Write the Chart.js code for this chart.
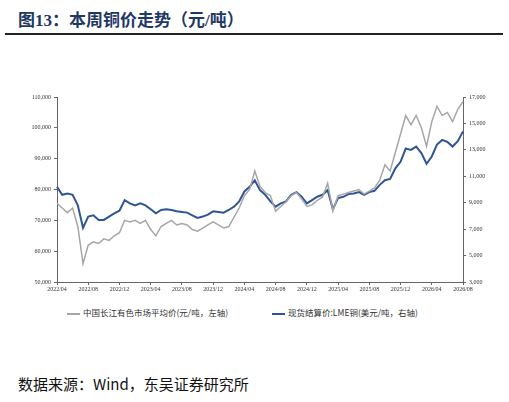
<!DOCTYPE html>
<html><head><meta charset="utf-8">
<script src="https://cdn.jsdelivr.net/npm/chart.js@4"></script>
<style>
body{margin:0;width:509px;height:402px;background:#fff;position:relative;overflow:hidden;font-family:"Noto Sans CJK SC",sans-serif}
#title{position:absolute;left:18px;top:6px;font-size:17px;font-weight:bold;color:#1F3864;font-family:"Liberation Serif","Noto Sans CJK SC",serif}
#rule{position:absolute;left:5px;top:33px;width:498px;height:2px;background:#222}
#box{position:absolute;left:0;top:90px;width:509px;height:215px}
.lg{position:absolute;top:306px;font-size:8.5px;color:#333}
.lg i{display:inline-block;width:13px;height:0;vertical-align:middle;margin-right:3px}
#src{position:absolute;left:18px;top:373px;font-size:15px;color:#111}
</style></head><body>
<div id="title">图13：本周铜价走势（元/吨）</div>
<div id="rule"></div>
<div id="box"><canvas id="c"></canvas></div>
<div class="lg" style="left:67px"><i style="border-top:2px solid #A6A6A6"></i>中国长江有色市场平均价(元/吨，左轴)</div>
<div class="lg" style="left:272px"><i style="border-top:2px solid #2F5597"></i>现货结算价:LME铜(美元/吨，右轴)</div>
<div id="src">数据来源：Wind，东吴证券研究所</div>
<script>
const tickLabels = ['2022/04','2022/08','2022/12','2023/04','2023/08','2023/12','2024/04','2024/08','2024/12','2025/04','2025/08','2025/12','2026/04','2026/08'];
const PER = 6;

const changjiang = [75500,
  74000,72500,74000,68000,56000,62000,
  63000,62500,64000,63500,65000,66000,
  70000,69500,70000,69000,70000,67000,
  65000,68000,69000,70000,68500,69000,
  68500,67000,66500,67500,68500,69500,
  68500,67500,68000,71000,74000,78000,
  80000,86000,81000,79000,78000,73000,
  74500,76000,78000,79000,77000,74500,
  75000,76500,77500,82000,73000,78000,
  78500,79000,79500,80000,78500,79500,
  80500,83000,88000,86000,92000,98000,
  104000,101000,104000,100000,94000,102000,
  107000,104000,105000,102000,106000,108500];

const lme = [10200,
  9600,9700,9600,8800,7100,7950,
  8050,7700,7700,7950,8200,8400,
  9200,8950,8800,8950,8800,8500,
  8200,8450,8500,8450,8350,8300,
  8250,8050,7850,7950,8100,8350,
  8300,8250,8450,8700,9100,9850,
  10200,10700,9950,9600,9100,8700,
  8950,9100,9600,9800,9450,8950,
  9200,9450,9600,9950,8500,9350,
  9450,9650,9700,9800,9600,9800,
  9900,10350,10700,10800,11600,12100,
  13100,13000,13250,12750,11950,12500,
  13400,13750,13600,13250,13650,14400];

const labels = changjiang.map((v, i) => i);
const tickFont = {family: "'Liberation Serif', serif", size: 6};
const axisCol = '#666';

new Chart(document.getElementById('c'), {
  type: 'line',
  data: {
    labels,
    datasets: [
      {data: changjiang, yAxisID: 'yL', borderColor: '#A6A6A6', borderWidth: 1.5, pointRadius: 0, tension: 0},
      {data: lme, yAxisID: 'yR', borderColor: '#2F5597', borderWidth: 2, pointRadius: 0, tension: 0}
    ]
  },
  options: {
    responsive: true, maintainAspectRatio: false, animation: false,
    layout: {padding: {top: 7, left: 0, right: 0, bottom: 0}},
    plugins: {legend: {display: false}, tooltip: {enabled: false}},
    scales: {
      x: {
        grid: {drawOnChartArea: false, tickLength: 3, color: axisCol},
        border: {color: axisCol},
        ticks: {autoSkip: false, maxRotation: 0, font: tickFont, color: '#333', padding: 1,
          callback: (v, i) => i % PER === 0 ? tickLabels[i / PER] : null},
        afterFit: s => { s.height = 23; }
      },
      yL: {
        position: 'left', min: 50000, max: 110000,
        grid: {drawOnChartArea: false, tickLength: 3, color: axisCol},
        border: {color: axisCol},
        ticks: {stepSize: 10000, font: tickFont, color: '#333', callback: v => v.toLocaleString('en-US')},
        afterFit: s => { s.width = 57; }
      },
      yR: {
        position: 'right', min: 3000, max: 17000,
        grid: {drawOnChartArea: false, tickLength: 3, color: axisCol},
        border: {color: axisCol},
        ticks: {stepSize: 2000, font: tickFont, color: '#333', callback: v => v.toLocaleString('en-US')},
        afterFit: s => { s.width = 46; }
      }
    }
  }
});
</script>
</body></html>
